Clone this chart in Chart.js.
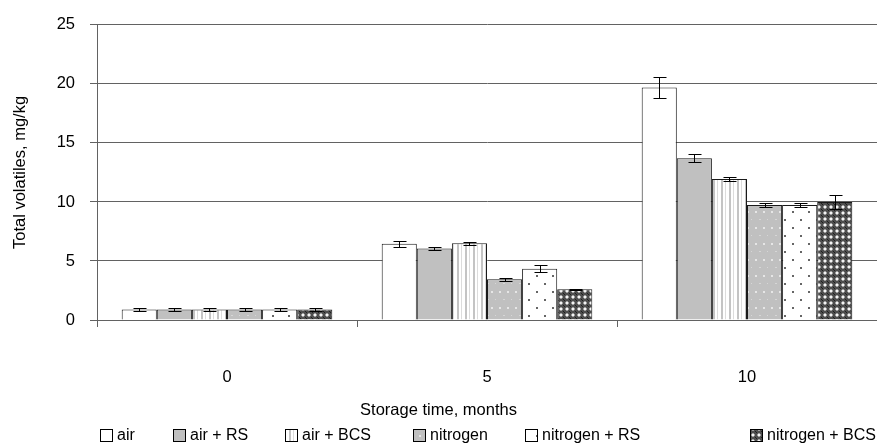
<!DOCTYPE html>
<html>
<head>
<meta charset="utf-8">
<script src="https://cdn.jsdelivr.net/npm/chart.js@4/dist/chart.umd.min.js"></script>
<style>
  html, body { margin: 0; padding: 0; background: #fff; }
  #wrap { width: 877px; height: 447px; }
</style>
</head>
<body>
<div id="wrap"><canvas id="c" width="877" height="447"></canvas></div>
<script>
// Storage time (months) on the x axis
const months = ['0', '5', '10'];
const seriesNames = ['air', 'air + RS', 'air + BCS', 'nitrogen', 'nitrogen + RS', 'nitrogen + BCS'];

// Total volatiles, mg/kg (means)
const air         = [0.9, 6.45, 19.7];
const airRS       = [0.9, 6.05, 13.7];
const airBCS      = [0.9, 6.5, 11.95];
const nitrogen    = [0.9, 3.45, 9.75];
const nitrogenRS  = [0.9, 4.35, 9.75];
const nitrogenBCS = [0.9, 2.6, 10.0];

// Error bar half-widths
const airErr         = [0.1, 0.25, 0.9];
const airRSErr       = [0.1, 0.15, 0.35];
const airBCSErr      = [0.1, 0.15, 0.2];
const nitrogenErr    = [0.1, 0.15, 0.2];
const nitrogenRSErr  = [0.1, 0.3, 0.2];
const nitrogenBCSErr = [0.1, 0.05, 0.6];

const yTicks = [0, 5, 10, 15, 20, 25];

const FONT = 'Liberation Sans, Arial, sans-serif';
const AXIS_SIZE = 16.5;
const LEGEND_SIZE = 16;

// ---- fill patterns ----
function makePattern(w, h, draw) {
  const cv = document.createElement('canvas');
  cv.width = w; cv.height = h;
  const g = cv.getContext('2d');
  draw(g);
  return document.getElementById('c').getContext('2d').createPattern(cv, 'repeat');
}
const patWhite = '#ffffff';
const patGray = '#c0c0c0';
const patStripes = makePattern(8, 8, g => {
  g.fillStyle = '#ffffff'; g.fillRect(0, 0, 8, 8);
  g.fillStyle = '#c4c4c4'; g.fillRect(1, 0, 2, 8);
  g.fillStyle = '#dcdcdc'; g.fillRect(5, 0, 1, 8);
});
const patGrayDots = makePattern(16, 16, g => {
  g.fillStyle = '#c0c0c0'; g.fillRect(0, 0, 16, 16);
  g.fillStyle = '#e6e6e6';
  g.fillRect(3, 3, 2, 2); g.fillRect(11, 3, 2, 2);
  g.fillStyle = '#d6d6d6';
  g.fillRect(7, 11, 2, 1); g.fillRect(15, 11, 1, 1);
});
const patWhiteDots = makePattern(16, 16, g => {
  g.fillStyle = '#ffffff'; g.fillRect(0, 0, 16, 16);
  g.fillStyle = '#666666';
  g.fillRect(8, 3, 2, 2); g.fillRect(0, 11, 2, 2);
});
const patCheck = makePattern(6, 6, g => {
  g.fillStyle = '#4e4e4e'; g.fillRect(0, 0, 6, 6);
  g.fillStyle = '#a0a0a0';
  g.fillRect(2, 1, 2, 4); g.fillRect(1, 2, 4, 2);
  g.fillStyle = '#f4f4f4'; g.fillRect(2, 2, 2, 2);
  g.fillStyle = '#202020'; g.fillRect(0, 0, 1, 1); g.fillRect(5, 5, 1, 1);
});

const values = [air, airRS, airBCS, nitrogen, nitrogenRS, nitrogenBCS];
const errors = [airErr, airRSErr, airBCSErr, nitrogenErr, nitrogenRSErr, nitrogenBCSErr];
const fills = [patWhite, patGray, patStripes, patGrayDots, patWhiteDots, patCheck];

const datasets = seriesNames.map((name, i) => ({
  label: name,
  data: values[i],
  errors: errors[i],
  backgroundColor: fills[i],
  borderColor: '#1a1a1a',
  borderWidth: 1,
  categoryPercentage: 0.81,
  barPercentage: 1.0
}));

// Symmetric error bars with caps
const errorBars = {
  id: 'errorBars',
  afterDatasetsDraw(chart) {
    const ctx = chart.ctx;
    const y = chart.scales.y;
    ctx.save();
    ctx.strokeStyle = '#000';
    ctx.lineWidth = 1;
    chart.data.datasets.forEach((ds, di) => {
      const meta = chart.getDatasetMeta(di);
      meta.data.forEach((bar, j) => {
        const v = ds.data[j], e = ds.errors[j];
        const x = Math.round(bar.x) + 0.5;
        const yt = Math.round(y.getPixelForValue(v + e)) + 0.5;
        const yb = Math.round(y.getPixelForValue(v - e)) + 0.5;
        ctx.beginPath();
        ctx.moveTo(x, yt); ctx.lineTo(x, yb);
        ctx.moveTo(x - 6, yt); ctx.lineTo(x + 7, yt);
        ctx.moveTo(x - 6, yb); ctx.lineTo(x + 7, yb);
        ctx.stroke();
      });
    });
    ctx.restore();
  }
};

// Legend row along the bottom
const legendRow = {
  id: 'legendRow',
  afterDraw(chart) {
    const ctx = chart.ctx;
    const xs = [100, 173, 285, 413, 525, 750];
    const yc = 435;
    ctx.save();
    ctx.font = LEGEND_SIZE + 'px ' + FONT;
    ctx.textBaseline = 'middle';
    chart.data.datasets.forEach((ds, i) => {
      const x0 = xs[i];
      ctx.fillStyle = ds.backgroundColor;
      ctx.fillRect(x0, yc - 6, 13, 13);
      ctx.strokeStyle = '#000';
      ctx.lineWidth = 1;
      ctx.strokeRect(x0 + 0.5, yc - 5.5, 12, 12);
      ctx.fillStyle = '#000';
      ctx.fillText(ds.label, x0 + 17, yc + 1);
    });
    ctx.restore();
  }
};

new Chart(document.getElementById('c'), {
  type: 'bar',
  data: { labels: months, datasets },
  plugins: [errorBars, legendRow],
  options: {
    responsive: false,
    animation: false,
    devicePixelRatio: 1,
    layout: { padding: { top: 23, right: 0, bottom: 0, left: 0 } },
    plugins: {
      legend: { display: false },
      tooltip: { enabled: false },
      title: {
        display: true,
        position: 'bottom',
        text: 'Storage time, months',
        color: '#000',
        font: { family: FONT, size: AXIS_SIZE, weight: 'normal' },
        padding: { top: 0, bottom: 27 }
      }
    },
    scales: {
      x: {
        grid: { offset: true, drawOnChartArea: false, drawTicks: true, tickLength: 7, color: '#626262' },
        border: { color: '#626262' },
        ticks: { padding: 41, color: '#000', font: { family: FONT, size: AXIS_SIZE } },
        afterFit(scale) { scale.height = 447 - 320 - (AXIS_SIZE * 1.2 + 27); }
      },
      y: {
        min: 0, max: 25,
        afterBuildTicks(scale) { scale.ticks = yTicks.map(v => ({ value: v })); },
        grid: { color: '#626262', tickLength: 7 },
        border: { color: '#626262' },
        ticks: { padding: 15, color: '#000', font: { family: FONT, size: AXIS_SIZE } },
        title: {
          display: true, text: 'Total volatiles, mg/kg', color: '#000',
          font: { family: FONT, size: AXIS_SIZE }, padding: { top: 11, bottom: 0 }
        },
        afterFit(scale) { scale.width = 97; }
      }
    }
  }
});
</script>
</body>
</html>
